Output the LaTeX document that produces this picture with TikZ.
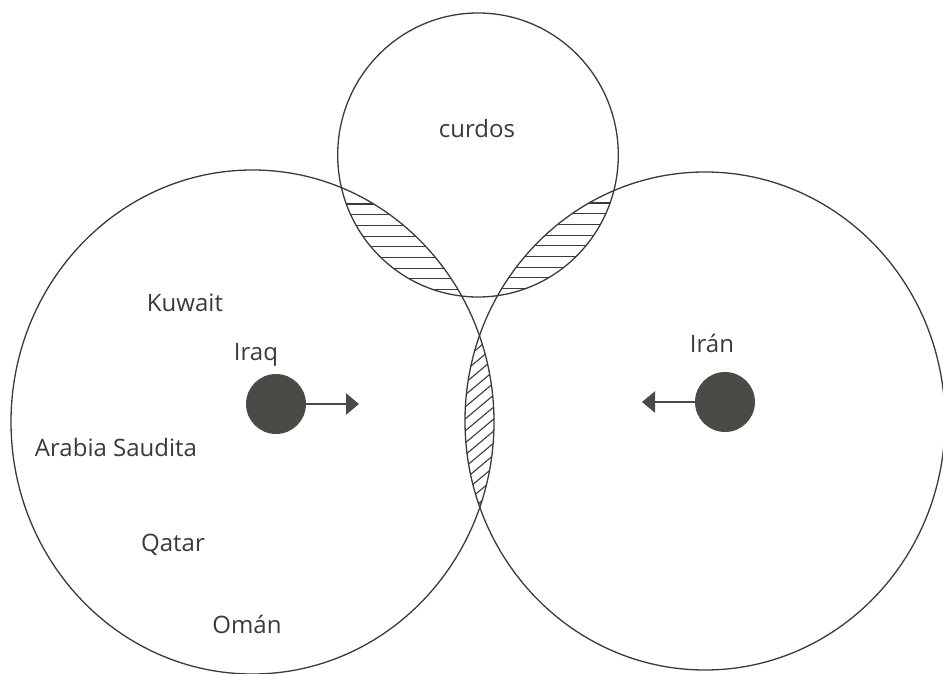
\documentclass[tikz,border=0pt]{standalone}
\usepackage{fontspec}
\setmainfont{Open Sans}
\usepackage{xcolor}
\usetikzlibrary{arrows.meta}

\definecolor{ink}{HTML}{3A3A3A}
\definecolor{blob}{HTML}{4A4A46}

\begin{document}
\begin{tikzpicture}[
  x=1pt,
  y=-1pt,
  ring/.style={draw=ink, line width=1.3pt},
  hatch/.style={draw=ink, line width=1.1pt},
  dot/.style={circle, fill=blob, minimum size=60pt, inner sep=0pt},
  push/.style={-{Triangle[length=13pt,width=21pt]}, draw=blob, line width=2.4pt},
  country/.style={font=\fontsize{24}{28}\selectfont, text=ink, anchor=base}
]
  \useasboundingbox (0,0) rectangle (943,674);

  % the three circles
  \coordinate (west) at (252.5,422);
  \coordinate (east) at (705,421);
  \coordinate (north) at (478,155);
  \draw[ring] (west) ellipse (241.5 and 252);
  \draw[ring] (east) ellipse (240 and 249);
  \draw[ring] (north) ellipse (140.3 and 142);

  % hatched overlaps
  \begin{scope}
    \clip (west) ellipse (241.5 and 252);
    \clip (north) ellipse (140.3 and 142);
    \foreach \k in {0,...,8} \draw[hatch] (320,204+10.7*\k) -- ++(200,0);
  \end{scope}
  \begin{scope}
    \clip (east) ellipse (240 and 249);
    \clip (north) ellipse (140.3 and 142);
    \foreach \k in {0,...,8} \draw[hatch] (430,203+10.7*\k) -- ++(200,0);
  \end{scope}
  \begin{scope}
    \clip (west) ellipse (241.5 and 252);
    \clip (east) ellipse (240 and 249);
    \foreach \k in {0,...,20} \draw[hatch] (440,320+12*\k) -- ++(80,-67);
  \end{scope}

  % labels
  \node[country] (curdos) at (477,138) {curdos};
  \node[country] (kuwait) at (185,311) {Kuwait};
  \node[country] (iraq) at (256,360) {Iraq};
  \node[country] (arabia) at (116,456) {Arabia Saudita};
  \node[country] (qatar) at (173,551) {Qatar};
  \node[country] (oman) at (247,633) {Omán};
  \node[country] (iran) at (712,352) {Irán};

  % forces
  \node[dot] (iraqdot) at (276,404) {};
  \coordinate (iraqtip) at (359,404);
  \draw[push] (iraqdot.east) -- (iraqtip);
  \node[dot] (irandot) at (725,402) {};
  \coordinate (irantip) at (642,402);
  \draw[push] (irandot.west) -- (irantip);
\end{tikzpicture}
\end{document}
